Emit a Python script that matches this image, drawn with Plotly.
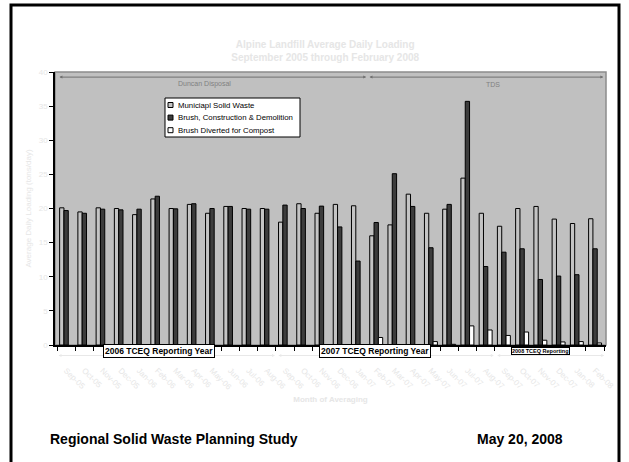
import plotly.graph_objects as go

months = ["Sep-05", "Oct-05", "Nov-05", "Dec-05", "Jan-06", "Feb-06", "Mar-06", "Apr-06",
          "May-06", "Jun-06", "Jul-06", "Aug-06", "Sep-06", "Oct-06", "Nov-06", "Dec-06",
          "Jan-07", "Feb-07", "Mar-07", "Apr-07", "May-07", "Jun-07", "Jul-07", "Aug-07",
          "Sep-07", "Oct-07", "Nov-07", "Dec-07", "Jan-08", "Feb-08"]

msw = [20.1, 19.5, 20.1, 20.0, 19.1, 21.4, 20.0, 20.6, 19.3, 20.3, 20.0, 20.0, 18.0, 20.7, 19.3,
       20.6, 20.4, 16.0, 17.6, 22.1, 19.3, 19.9, 24.45, 19.3, 17.4, 20.0, 20.3, 18.45, 17.8, 18.5]

bcd = [19.7, 19.3, 19.9, 19.8, 19.9, 21.8, 19.95, 20.7, 20.0, 20.3, 19.9, 19.9, 20.5, 20.0, 20.35,
       17.3, 12.3, 17.95, 25.1, 20.3, 14.25, 20.6, 35.7, 11.5, 13.6, 14.1, 9.6, 10.1, 10.3, 14.1]

compost = [None] * 17 + [1.1, None, None, 0.5, 0.1, 2.8, 2.2, 1.4, 1.9, 0.7, 0.45, 0.5, 0.3]

series_names = ["Municiapl Solid Waste", "Brush, Construction & Demolition", "Brush Diverted for Compost"]
series_colors = ["#C4C4C4", "#3C3C3C", "#FFFFFF"]

FONT = "Arial, Liberation Sans, sans-serif"
LIGHT = "#E6E6E6"

# pixel -> paper helpers (plot area: x 55..606, y 72..345)
L, R, T, B = 55, 606, 72, 345
def px(x):
    return (x - L) / (R - L)
def py(y):
    return (B - y) / (B - T)

fig = go.Figure()
for name, vals, col in zip(series_names, [msw, bcd, compost], series_colors):
    fig.add_trace(go.Bar(x=months, y=vals, name=name, showlegend=False,
                         marker=dict(color=col, line=dict(color="#000000", width=1))))

annotations = []
shapes = []

# frame of the slide
shapes.append(dict(type="rect", xref="paper", yref="paper", x0=px(11), x1=px(619), y0=py(475), y1=py(5),
                   line=dict(color="#000000", width=3), layer="below"))
# plot area border
shapes.append(dict(type="rect", xref="paper", yref="paper", x0=0, x1=1, y0=0, y1=1,
                   line=dict(color="#8C8C8C", width=1.5), layer="below"))

# legend box
shapes.append(dict(type="rect", xref="paper", yref="paper", x0=px(165), x1=px(300), y0=py(137), y1=py(98),
                   line=dict(color="#000000", width=1), fillcolor="#FFFFFF", layer="above"))
for i, (name, col) in enumerate(zip(series_names, series_colors)):
    cy = 105 + 12.6 * i
    shapes.append(dict(type="rect", xref="paper", yref="paper", x0=px(168), x1=px(173),
                       y0=py(cy + 2.5), y1=py(cy - 2.5),
                       line=dict(color="#000000", width=1), fillcolor=col, layer="above"))
    annotations.append(dict(x=px(176), y=py(cy), xref="paper", yref="paper", xanchor="left", yanchor="middle",
                            text=name, showarrow=False, font=dict(family=FONT, size=7.8, color="#000000")))

def span_arrow(x0, x1, y, yref, color, width=1, size=0.6):
    if yref == "y":
        annotations.append(dict(x=x1, y=y, ax=x0, ay=y, xref="x", yref="y", axref="x", ayref="y",
                                text="", showarrow=True, arrowhead=2, arrowside="end+start",
                                arrowsize=size, arrowwidth=width, arrowcolor=color))
    else:
        annotations.append(dict(x=x1, y=y, ax=x0, ay=0, xref="x", yref="paper", axref="x", ayref="pixel",
                                text="", showarrow=True, arrowhead=2, arrowside="end+start",
                                arrowsize=size, arrowwidth=width, arrowcolor=color))

# hauler spans at top of plot
span_arrow(-0.45, 16.45, 39.25, "y", "#707070")
span_arrow(16.55, 29.45, 39.25, "y", "#707070")
annotations.append(dict(x=7.6, y=38.2, xref="x", yref="y", text="Duncan Disposal", showarrow=False,
                        font=dict(family=FONT, size=7, color="#808080")))
annotations.append(dict(x=23.4, y=38.2, xref="x", yref="y", text="TDS", showarrow=False,
                        font=dict(family=FONT, size=7, color="#808080")))

# reporting years below axis
yb = py(355.5)
span_arrow(-0.5, 11.45, yb, "paper", "#E8E8E8")
span_arrow(11.55, 23.45, yb, "paper", "#E8E8E8")
span_arrow(23.55, 29.5, yb, "paper", "#E8E8E8")
annotations.append(dict(x=5.1, y=py(357.5), xref="x", yref="paper", text="<b>2006 TCEQ Reporting Year</b>",
                        showarrow=False, font=dict(family=FONT, size=8.5, color="#000000"), bgcolor="#FFFFFF",
                        bordercolor="#000000", borderwidth=1, borderpad=1))
annotations.append(dict(x=16.95, y=py(357.5), xref="x", yref="paper", text="<b>2007 TCEQ Reporting Year</b>",
                        showarrow=False, font=dict(family=FONT, size=8.5, color="#000000"), bgcolor="#FFFFFF",
                        bordercolor="#000000", borderwidth=1, borderpad=1))
annotations.append(dict(x=26.0, y=py(354.5), xref="x", yref="paper", text="<b>2008 TCEQ Reporting</b>",
                        showarrow=False, font=dict(family=FONT, size=5.5, color="#000000"), bgcolor="#FFFFFF",
                        bordercolor="#000000", borderwidth=1, borderpad=0))

# footer
annotations.append(dict(x=px(48), y=py(439), xref="paper", yref="paper", xanchor="left", yanchor="middle",
                        text="<b>Regional Solid Waste Planning Study</b>", showarrow=False,
                        font=dict(family=FONT, size=14, color="#000000")))
annotations.append(dict(x=px(565), y=py(439), xref="paper", yref="paper", xanchor="right", yanchor="middle",
                        text="<b>May 20, 2008</b>", showarrow=False,
                        font=dict(family=FONT, size=14, color="#000000")))

fig.update_layout(
    width=629, height=462,
    margin=dict(l=L, r=629 - R, t=T, b=462 - B),
    paper_bgcolor="#FFFFFF", plot_bgcolor="#C0C0C0",
    barmode="group", bargap=0.29, bargroupgap=0,
    title=dict(text="<b>Alpine Landfill Average Daily Loading<br>September 2005 through February 2008</b>",
               x=0.517, xanchor="center", y=1 - 48 / 462, yanchor="middle", yref="container",
               font=dict(family=FONT, size=10, color=LIGHT)),
    font=dict(family=FONT),
    showlegend=False,
    xaxis=dict(type="category", showline=True, linecolor="#000000", linewidth=1.5,
               ticks="outside", tickson="boundaries", ticklen=4, tickcolor="#000000",
               tickangle=45, ticklabelstandoff=16,
               tickfont=dict(family=FONT, size=8, color=LIGHT),
               title=dict(text="<b>Month of Averaging</b>", standoff=6,
                          font=dict(family=FONT, size=8, color=LIGHT)),
               showgrid=False, zeroline=False),
    yaxis=dict(range=[0, 40], dtick=5, showline=True, linecolor="#000000", linewidth=1.5,
               ticks="outside", ticklen=4, tickcolor="#000000",
               tickfont=dict(family=FONT, size=8, color=LIGHT),
               title=dict(text="Average Daily Loading (tons/day)", standoff=6,
                          font=dict(family=FONT, size=8, color=LIGHT)),
               showgrid=False, zeroline=False),
    annotations=annotations,
    shapes=shapes,
)

fig.write_html("out.html", config={"displayModeBar": False},
               post_script="document.body.style.margin='0';document.body.style.overflow='hidden';")
